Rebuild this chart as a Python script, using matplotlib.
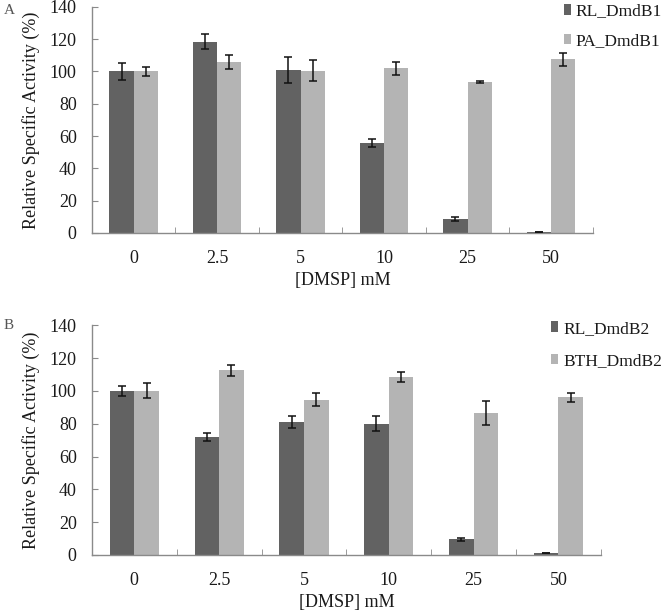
import numpy as np
import matplotlib.pyplot as plt

plt.rcParams['font.family'] = ['Liberation Serif', 'DejaVu Serif']

# concentrations of DMSP (mM)
conc = ['0', '2.5', '5', '10', '25', '50']

# panel A
rl_b1 = [100, 118.5, 101, 56, 8.5, 0.3]
rl_b1_err = [5, 4.5, 8, 2.5, 1.2, 0]
pa_b1 = [100, 106, 100.5, 102, 93.5, 107.5]
pa_b1_err = [2.5, 4.5, 6.5, 4, 0.7, 4]

# panel B
rl_b2 = [100, 72, 81, 80, 9.5, 1.2]
rl_b2_err = [3, 2.5, 3.5, 4.5, 1, 0.3]
bth_b2 = [100, 112.5, 94.5, 108.5, 86.5, 96]
bth_b2_err = [4.5, 3.5, 4, 3, 7.5, 2.5]

dark = '#626262'
light = '#b4b4b4'
axis_col = '#8a8a8a'
txt_col = '#1a1a1a'
fs = 13

fig = plt.figure(figsize=(6.66, 6.11), dpi=100)
ax1 = fig.add_axes([0.138, 0.6187, 0.752, 0.370])
ax2 = fig.add_axes([0.138, 0.0917, 0.764, 0.376])


def draw(ax, s1, e1, s2, e2, names, leg_xy, spacing):
    x = np.arange(len(conc))
    w = 0.29
    ax.bar(x - w / 2, s1, w, color=dark, label=names[0], zorder=2)
    ax.bar(x + w / 2, s2, w, color=light, label=names[1], zorder=2)
    ax.errorbar(x - w / 2, s1, yerr=e1, fmt='none', ecolor='#111111',
                elinewidth=1.1, capsize=3, capthick=1.1, zorder=3)
    ax.errorbar(x + w / 2, s2, yerr=e2, fmt='none', ecolor='#111111',
                elinewidth=1.1, capsize=3, capthick=1.1, zorder=3)
    ax.set_xlim(-0.5, len(conc) - 0.5)
    ax.set_ylim(0, 140)
    ax.set_yticks(range(0, 141, 20))
    ax.set_xticks(x)
    ax.set_xticklabels(conc)
    ax.set_xticks(np.arange(-0.5, len(conc), 1), minor=True)
    ax.tick_params(axis='x', which='major', length=0, pad=12,
                   labelsize=fs, labelcolor=txt_col)
    ax.tick_params(axis='x', which='minor', direction='in', length=4,
                   color=axis_col)
    ax.tick_params(axis='y', direction='in', length=4, color=axis_col,
                   labelsize=fs, labelcolor=txt_col, pad=11)
    for s in ['top', 'right']:
        ax.spines[s].set_visible(False)
    for s in ['left', 'bottom']:
        ax.spines[s].set_color(axis_col)
        ax.spines[s].set_linewidth(1.0)
    ax.set_ylabel('Relative Specific Activity (%)', fontsize=fs,
                  color=txt_col, labelpad=7)
    ax.set_xlabel('[DMSP] mM', fontsize=fs, color=txt_col, labelpad=4)
    leg = ax.legend(loc='upper left', bbox_to_anchor=leg_xy, frameon=False,
                    fontsize=12.5, handlelength=0.4, handleheight=0.55,
                    handletextpad=0.3, labelspacing=spacing, borderaxespad=0,
                    borderpad=0)
    for t in leg.get_texts():
        t.set_color(txt_col)


draw(ax1, rl_b1, rl_b1_err, pa_b1, pa_b1_err,
     ['RL_DmdB1', 'PA_DmdB1'], (0.942, 1.015), 0.8)
draw(ax2, rl_b2, rl_b2_err, bth_b2, bth_b2_err,
     ['RL_DmdB2', 'BTH_DmdB2'], (0.903, 1.02), 0.95)

fig.text(0.006, 0.982, 'A', fontsize=11, color='#555555', va='center')
fig.text(0.006, 0.468, 'B', fontsize=11, color='#555555', va='center')

fig.savefig('out.png', dpi=100)
